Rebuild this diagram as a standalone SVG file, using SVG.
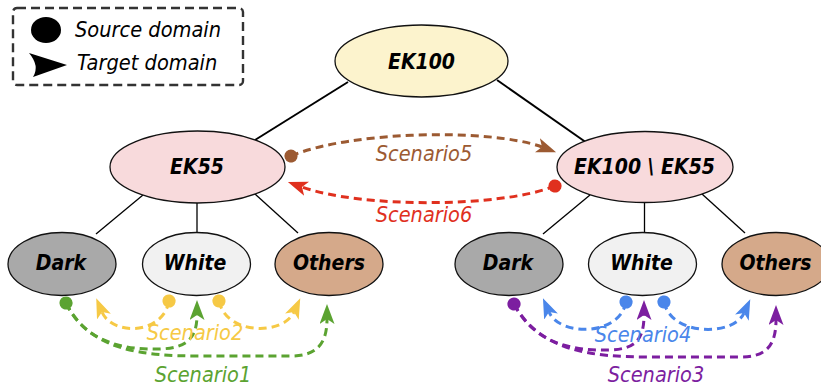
<svg xmlns="http://www.w3.org/2000/svg" width="821" height="387" viewBox="0 0 821 387">
  <style>
    .node { stroke: #111; stroke-width: 1.3; }
    .lbl { font-family: "DejaVu Sans Condensed", "DejaVu Sans", Verdana, sans-serif; font-weight: bold; font-style: italic; font-size: 21px; text-anchor: middle; fill: #000; font-stretch: condensed; }
    .tree { stroke: #000; fill: none; }
    .link { fill: none; stroke-width: 3; stroke-dasharray: 8 5; }
    .sc { font-family: "DejaVu Sans Condensed", "DejaVu Sans", Verdana, sans-serif; font-style: italic; font-size: 21.5px; text-anchor: middle; font-stretch: condensed; }
    .leg { font-family: "DejaVu Sans Condensed", "DejaVu Sans", Verdana, sans-serif; font-style: italic; font-size: 21.6px; fill: #000; font-stretch: condensed; }
  </style>
  <defs>
    <!-- dot markers (source) and arrow markers (target), one per scenario colour -->
    <marker id="dot-brown" markerUnits="userSpaceOnUse" markerWidth="16" markerHeight="16" refX="8" refY="8" orient="auto"><circle cx="8" cy="8" r="6.6" fill="#9c5a32"/></marker>
    <marker id="arr-brown" markerUnits="userSpaceOnUse" markerWidth="21" markerHeight="16" refX="5" refY="7.5" orient="auto"><path d="M0,0 L20,7.5 L0,15 L5,7.5 Z" fill="#9c5a32"/></marker>
    <marker id="dot-red" markerUnits="userSpaceOnUse" markerWidth="16" markerHeight="16" refX="8" refY="8" orient="auto"><circle cx="8" cy="8" r="6.6" fill="#e0301e"/></marker>
    <marker id="arr-red" markerUnits="userSpaceOnUse" markerWidth="21" markerHeight="16" refX="5" refY="7.5" orient="auto"><path d="M0,0 L20,7.5 L0,15 L5,7.5 Z" fill="#e0301e"/></marker>
    <marker id="dot-yellow" markerUnits="userSpaceOnUse" markerWidth="16" markerHeight="16" refX="8" refY="8" orient="auto"><circle cx="8" cy="8" r="6.6" fill="#f6c945"/></marker>
    <marker id="arr-yellow" markerUnits="userSpaceOnUse" markerWidth="21" markerHeight="16" refX="5" refY="7.5" orient="auto"><path d="M0,0 L20,7.5 L0,15 L5,7.5 Z" fill="#f6c945"/></marker>
    <marker id="dot-green" markerUnits="userSpaceOnUse" markerWidth="16" markerHeight="16" refX="8" refY="8" orient="auto"><circle cx="8" cy="8" r="6.6" fill="#5ba331"/></marker>
    <marker id="arr-green" markerUnits="userSpaceOnUse" markerWidth="21" markerHeight="16" refX="5" refY="7.5" orient="auto"><path d="M0,0 L20,7.5 L0,15 L5,7.5 Z" fill="#5ba331"/></marker>
    <marker id="dot-blue" markerUnits="userSpaceOnUse" markerWidth="16" markerHeight="16" refX="8" refY="8" orient="auto"><circle cx="8" cy="8" r="6.6" fill="#4a86ea"/></marker>
    <marker id="arr-blue" markerUnits="userSpaceOnUse" markerWidth="21" markerHeight="16" refX="5" refY="7.5" orient="auto"><path d="M0,0 L20,7.5 L0,15 L5,7.5 Z" fill="#4a86ea"/></marker>
    <marker id="dot-purple" markerUnits="userSpaceOnUse" markerWidth="16" markerHeight="16" refX="8" refY="8" orient="auto"><circle cx="8" cy="8" r="6.6" fill="#7c1ea0"/></marker>
    <marker id="arr-purple" markerUnits="userSpaceOnUse" markerWidth="21" markerHeight="16" refX="5" refY="7.5" orient="auto"><path d="M0,0 L20,7.5 L0,15 L5,7.5 Z" fill="#7c1ea0"/></marker>
  </defs>

  <rect width="821" height="387" fill="#fff"/>

  <!-- legend -->
  <g id="legend">
    <rect x="13" y="8" width="230" height="77" rx="4" fill="none" stroke="#333" stroke-width="2.4" stroke-dasharray="9 5"/>
    <ellipse cx="46" cy="30" rx="15" ry="13" fill="#000"/>
    <path d="M29,53 L67,65 L33,77 Q40,66 29,53 Z" fill="#000"/>
    <text class="leg" x="75" y="37">Source domain</text>
    <text class="leg" x="77" y="70">Target domain</text>
  </g>

  <!-- hierarchy edges -->
  <g id="tree-edges" class="tree">
    <line x1="348" y1="82" x2="255" y2="140" stroke-width="2"/>
    <line x1="497" y1="80" x2="587" y2="143" stroke-width="2"/>
    <line x1="143" y1="195" x2="96" y2="234" stroke-width="1.3"/>
    <line x1="197" y1="200" x2="197" y2="235" stroke-width="1.3"/>
    <line x1="255" y1="194" x2="298" y2="233" stroke-width="1.3"/>
    <line x1="590" y1="195" x2="543" y2="234" stroke-width="1.3"/>
    <line x1="644.5" y1="200" x2="644.5" y2="235" stroke-width="1.3"/>
    <line x1="702" y1="194" x2="745" y2="233" stroke-width="1.3"/>
  </g>

  <g id="ek100">
    <ellipse class="node" cx="421.5" cy="61" rx="86.5" ry="36" fill="#fcf3cd"/>
    <text class="lbl" x="421.5" y="69">EK100</text>
  </g>
  <g id="ek55">
    <ellipse class="node" cx="197.5" cy="167" rx="87.5" ry="36" fill="#f8dadc"/>
    <text class="lbl" x="197" y="174">EK55</text>
  </g>
  <g id="ek100-minus-ek55">
    <ellipse class="node" cx="645" cy="167" rx="88" ry="35.5" fill="#f8dadc"/>
    <text class="lbl" x="644.5" y="174">EK100 \ EK55</text>
  </g>

  <g id="dark-a">
    <ellipse class="node" cx="62" cy="264" rx="54" ry="31.5" fill="#a9a9a9"/>
    <text class="lbl" x="61" y="270">Dark</text>
  </g>
  <g id="white-a">
    <ellipse class="node" cx="196.5" cy="264" rx="54" ry="31.5" fill="#f1f1f1"/>
    <text class="lbl" x="195" y="270">White</text>
  </g>
  <g id="others-a">
    <ellipse class="node" cx="329" cy="264" rx="54" ry="31.5" fill="#d5a98a"/>
    <text class="lbl" x="329" y="270">Others</text>
  </g>
  <g id="dark-b">
    <ellipse class="node" cx="509" cy="264" rx="54" ry="31.5" fill="#a9a9a9"/>
    <text class="lbl" x="508" y="270">Dark</text>
  </g>
  <g id="white-b">
    <ellipse class="node" cx="642.5" cy="264" rx="54" ry="31.5" fill="#f1f1f1"/>
    <text class="lbl" x="641.5" y="270">White</text>
  </g>
  <g id="others-b">
    <ellipse class="node" cx="776" cy="264" rx="54" ry="31.5" fill="#d5a98a"/>
    <text class="lbl" x="775.5" y="270">Others</text>
  </g>

  <!-- scenario links: dot = source domain, arrow = target domain -->
  <g id="scenario-links">
    <path class="link" stroke="#9c5a32" marker-start="url(#dot-brown)" marker-end="url(#arr-brown)" d="M291,156 C350,131 490,128 542,147"/>
    <path class="link" stroke="#e0301e" marker-start="url(#dot-red)" marker-end="url(#arr-red)" d="M555,186 C500,208 360,208 302,187"/>

    <path class="link" stroke="#5ba331" marker-start="url(#dot-green)" marker-end="url(#arr-green)" d="M66,303 C85,343 125,350 160,349 C185,348 197,340 197,315"/>
    <path class="link" stroke="#5ba331" marker-end="url(#arr-green)" d="M66,303 C90,350 140,356 200,356 L290,356 C315,356 327,346 327,319"/>
    <path class="link" stroke="#f6c945" marker-start="url(#dot-yellow)" marker-end="url(#arr-yellow)" d="M169,301 C163,335 112,336 102,312"/>
    <path class="link" stroke="#f6c945" marker-start="url(#dot-yellow)" marker-end="url(#arr-yellow)" d="M219,301 C226,335 283,336 294,312"/>

    <path class="link" stroke="#7c1ea0" marker-start="url(#dot-purple)" marker-end="url(#arr-purple)" d="M514,304 C535,345 575,351 610,350 C635,349 644,340 644,315"/>
    <path class="link" stroke="#7c1ea0" marker-end="url(#arr-purple)" d="M514,304 C540,351 590,357 650,357 L740,357 C765,357 776,347 776,320"/>
    <path class="link" stroke="#4a86ea" marker-start="url(#dot-blue)" marker-end="url(#arr-blue)" d="M626,302 C620,336 560,337 549,312"/>
    <path class="link" stroke="#4a86ea" marker-start="url(#dot-blue)" marker-end="url(#arr-blue)" d="M664,302 C671,336 733,337 744,313"/>
  </g>

  <g id="scenario-labels">
    <text class="sc" x="424" y="161" fill="#9c5a32">Scenario5</text>
    <text class="sc" x="424" y="222" fill="#e0301e">Scenario6</text>
    <text class="sc" x="195" y="340" fill="#f6c945">Scenario2</text>
    <text class="sc" x="203" y="382" fill="#5ba331">Scenario1</text>
    <text class="sc" x="643" y="342" fill="#4a86ea">Scenario4</text>
    <text class="sc" x="656" y="382" fill="#7c1ea0">Scenario3</text>
  </g>
</svg>
